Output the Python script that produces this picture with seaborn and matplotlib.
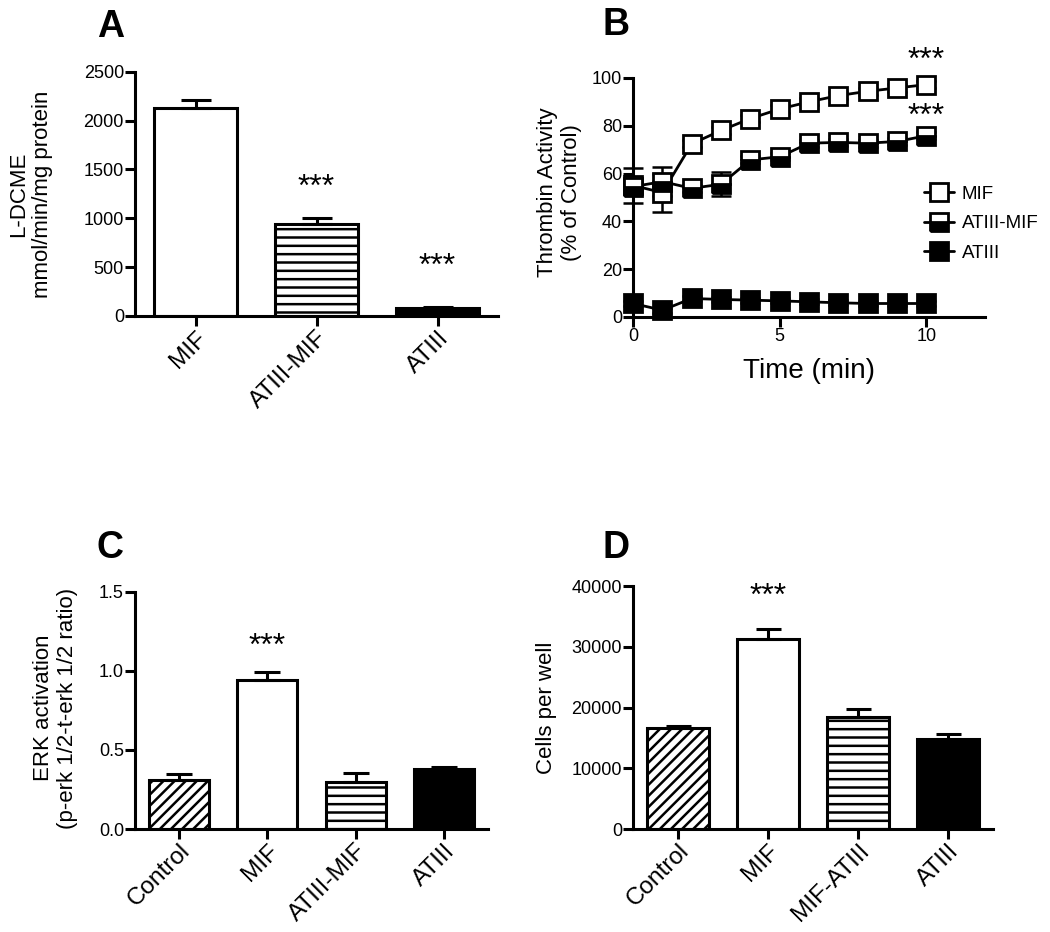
import numpy as np
import pandas as pd
import matplotlib
matplotlib.use("Agg")
import matplotlib.pyplot as plt
from matplotlib.lines import Line2D
import seaborn as sns

# Panel A - L-DCME activity
a_groups = ['MIF', 'ATIII-MIF', 'ATIII']
a_means = [2130, 940, 80]
a_errs = [80, 62, 8]

# Panel B - thrombin activity over time
b_time = list(range(11))
b_mif = [55, 52, 72.4, 78, 83, 87, 90, 92.6, 94.4, 95.8, 97.2]
b_mif_err = [7.5, 8, 1.5, 1.5, 1.5, 1.5, 1.5, 1.5, 1.5, 1.5, 1.5]
b_atmif = [54.5, 56.6, 53.8, 55.5, 65.7, 67, 72.7, 73, 72.7, 73.4, 75.8]
b_atmif_err = [1.5, 6, 1.5, 5, 1.5, 1.5, 1.5, 1.5, 1.5, 1.5, 1.5]
b_atiii = [5.6, 2.8, 7.7, 7.3, 7, 6.7, 6.3, 5.9, 5.6, 5.6, 5.6]
b_atiii_err = [1, 1, 1, 1, 1, 1, 1, 1, 1, 1, 1]

# Panel C - ERK activation
c_groups = ['Control', 'MIF', 'ATIII-MIF', 'ATIII']
c_means = [0.31, 0.94, 0.30, 0.38]
c_errs = [0.04, 0.055, 0.055, 0.015]

# Panel D - cell counts
d_groups = ['Control', 'MIF', 'MIF-ATIII', 'ATIII']
d_means = [16650, 31200, 18500, 14900]
d_errs = [300, 1700, 1200, 800]

sns.set_theme(style='ticks')
plt.rcParams['font.family'] = ['Liberation Sans', 'DejaVu Sans']
plt.rcParams['hatch.linewidth'] = 1.8
plt.rcParams['hatch.color'] = 'black'
for key in ['text.color', 'axes.labelcolor', 'xtick.color', 'ytick.color',
            'axes.edgecolor']:
    plt.rcParams[key] = 'black'

LW = 2.2
STAR = dict(ha='center', va='center', fontsize=23)

fig = plt.figure(figsize=(10.5, 9.32), dpi=100)
axA = fig.add_axes([0.1286, 0.661, 0.3457, 0.262])
axB = fig.add_axes([0.6029, 0.660, 0.3352, 0.2564])
axC = fig.add_axes([0.1286, 0.1105, 0.3362, 0.2545])
axD = fig.add_axes([0.6029, 0.1105, 0.3429, 0.2607])


def style_axis(ax):
    sns.despine(ax=ax)
    for s in ['left', 'bottom']:
        ax.spines[s].set_linewidth(LW)
    ax.tick_params(axis='both', direction='out', length=7, width=LW,
                   labelsize=13, pad=1, color='black', labelcolor='black')


def bar_panel(ax, groups, means, errs, styles, capsize):
    df = pd.DataFrame({'group': groups, 'value': means})
    sns.barplot(data=df, x='group', y='value', ax=ax, width=0.68,
                color='white', edgecolor='black', linewidth=LW,
                errorbar=None, saturation=1)
    for patch, (fc, hatch) in zip(ax.patches, styles):
        patch.set_facecolor(fc)
        patch.set_hatch(hatch)
    ax.errorbar(np.arange(len(groups)), means,
                yerr=[np.zeros(len(errs)), errs], fmt='none',
                ecolor='black', elinewidth=LW, capsize=capsize,
                capthick=LW, zorder=1)
    ax.set_xlim(-0.5, len(groups) - 0.5)
    ax.set_xlabel('')
    style_axis(ax)
    plt.setp(ax.get_xticklabels(), rotation=45, ha='right',
             rotation_mode='anchor', fontsize=17.5)


# A
bar_panel(axA, a_groups, a_means, a_errs,
          [('white', ''), ('white', '--'), ('black', '')], 11)
axA.set_ylim(0, 2500)
axA.set_yticks([0, 500, 1000, 1500, 2000, 2500])
axA.set_ylabel('L-DCME\nmmol/min/mg protein', fontsize=16)
axA.yaxis.set_label_coords(-0.226, 0.5)
axA.text(1, 1312, '***', **STAR)
axA.text(2, 500, '***', **STAR)

# B
series = [
    ('MIF', b_mif, b_mif_err, dict(mfc='white', fillstyle='full')),
    ('ATIII-MIF', b_atmif, b_atmif_err,
     dict(mfc='black', fillstyle='bottom', markerfacecoloralt='white')),
    ('ATIII', b_atiii, b_atiii_err, dict(mfc='black', fillstyle='full')),
]
handles = []
for name, vals, errs, mkw in series:
    axB.errorbar(b_time, vals, yerr=errs, fmt='none', ecolor='black',
                 elinewidth=1.8, capsize=7, capthick=1.8, zorder=2,
                 clip_on=False)
    sns.lineplot(x=b_time, y=vals, ax=axB, color='black', linewidth=2,
                 marker='s', markersize=12.5, markeredgecolor='black',
                 markeredgewidth=2, zorder=3, clip_on=False, **mkw)
    handles.append(Line2D([], [], color='black', linewidth=2, marker='s',
                          markersize=12.5, markeredgecolor='black',
                          markeredgewidth=2, label=name, **mkw))
axB.set_xlim(0, 12)
axB.set_ylim(0, 100)
axB.set_xticks([0, 5, 10])
axB.set_yticks([0, 20, 40, 60, 80, 100])
style_axis(axB)
axB.set_xlabel('Time (min)', fontsize=20)
axB.xaxis.set_label_coords(0.5, -0.17)
axB.set_ylabel('Thrombin Activity\n(% of Control)', fontsize=16)
axB.yaxis.set_label_coords(-0.145, 0.52)
axB.legend(handles=handles, loc='center left', bbox_to_anchor=(0.80, 0.39),
           frameon=False, fontsize=13.5, handlelength=1.6, borderpad=0,
           labelspacing=0.65, handletextpad=0.4)
axB.text(10, 107, '***', **STAR)
axB.text(10, 83.5, '***', **STAR)

# C
bar_panel(axC, c_groups, c_means, c_errs,
          [('white', '///'), ('white', ''), ('white', '--'), ('black', '')], 9.5)
axC.set_ylim(0, 1.5)
axC.set_yticks([0.0, 0.5, 1.0, 1.5])
axC.set_yticklabels(['0.0', '0.5', '1.0', '1.5'])
axC.set_ylabel('ERK activation\n(p-erk 1/2-t-erk 1/2 ratio)', fontsize=16)
axC.yaxis.set_label_coords(-0.161, 0.51)
axC.text(1, 1.15, '***', **STAR)

# D
bar_panel(axD, d_groups, d_means, d_errs,
          [('white', '///'), ('white', ''), ('white', '--'), ('black', '')], 9)
axD.set_ylim(0, 40000)
axD.set_yticks([0, 10000, 20000, 30000, 40000])
axD.set_ylabel('Cells per well', fontsize=16)
axD.yaxis.set_label_coords(-0.211, 0.5)
axD.text(1, 38140, '***', **STAR)

# panel letters
for letter, x, y in [('A', 0.092, 0.960), ('B', 0.574, 0.962),
                     ('C', 0.092, 0.401), ('D', 0.574, 0.401)]:
    fig.text(x, y, letter, fontsize=27, fontweight='bold', va='baseline')

fig.savefig('out.png', dpi=100)
